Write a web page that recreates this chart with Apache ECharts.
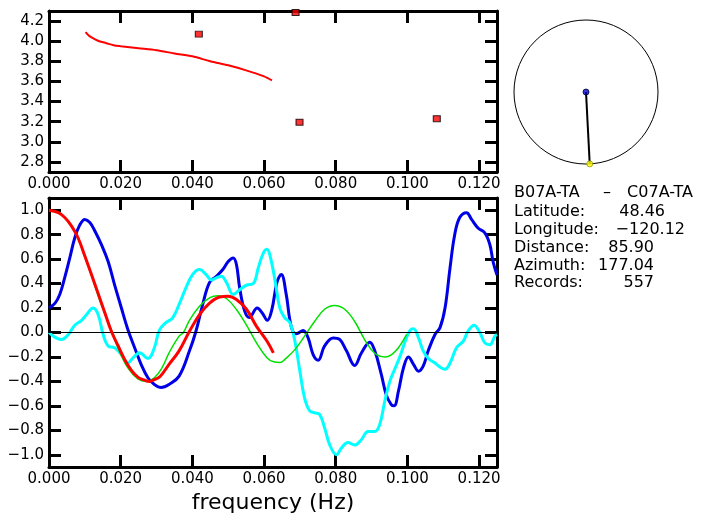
<!DOCTYPE html>
<html><head><meta charset="utf-8">
<script src="https://cdn.jsdelivr.net/npm/echarts@6/dist/echarts.min.js"></script>
<style>html,body{margin:0;padding:0;background:#fff}#c{width:703px;height:519px}</style>
</head><body><div id="c"></div>
<script>
// ---------- data ----------
const xLabelVals = [0, 0.02, 0.04, 0.06, 0.08, 0.10, 0.12];
const xTickVals = [0.02, 0.04, 0.06, 0.08, 0.10, 0.12];
const topYVals = [2.8, 3.0, 3.2, 3.4, 3.6, 3.8, 4.0, 4.2];
const botYVals = [-1.0, -0.8, -0.6, -0.4, -0.2, 0.0, 0.2, 0.4, 0.6, 0.8, 1.0];

const velocityCurve = [[0.0102,4.09],[0.011,4.06],[0.012,4.035],[0.013,4.015],[0.014,4.0],[0.016,3.98],[0.018,3.96],[0.020,3.95],[0.025,3.93],[0.030,3.91],[0.035,3.878],[0.040,3.85],[0.045,3.80],[0.050,3.76],[0.055,3.71],[0.060,3.65],[0.0622,3.61]];
const velocityPoints = [[0.0418,4.07],[0.0688,4.285],[0.0699,3.195],[0.1082,3.23]];

const redCoh = [[0,1.0],[0.0026,0.98],[0.0044,0.94],[0.0063,0.87],[0.0081,0.775],[0.010,0.625],[0.0119,0.47],[0.0137,0.32],[0.0156,0.16],[0.0174,0.01],[0.0193,-0.11],[0.0211,-0.22],[0.023,-0.31],[0.0248,-0.365],[0.0267,-0.39],[0.028,-0.40],[0.0294,-0.385],[0.031,-0.36],[0.0335,-0.26],[0.0363,-0.15],[0.0392,0.01],[0.042,0.147],[0.0448,0.24],[0.0476,0.29],[0.050,0.297],[0.0523,0.27],[0.0551,0.19],[0.0579,0.05],[0.0608,-0.07],[0.0626,-0.166]];
const greenCoh = [[0,1.0],[0.0026,0.98],[0.0044,0.94],[0.0063,0.87],[0.0081,0.77],[0.010,0.62],[0.0119,0.46],[0.0137,0.30],[0.0156,0.15],[0.0174,0.02],[0.0193,-0.13],[0.022,-0.29],[0.0248,-0.38],[0.0271,-0.40],[0.0294,-0.37],[0.0315,-0.29],[0.0335,-0.166],[0.0363,-0.03],[0.0375,0.0],[0.0392,0.10],[0.042,0.215],[0.0448,0.283],[0.0471,0.30],[0.0495,0.278],[0.0523,0.188],[0.0551,0.06],[0.0579,-0.085],[0.0608,-0.207],[0.0627,-0.24],[0.0645,-0.245],[0.0658,-0.22],[0.0686,-0.14],[0.0713,-0.03],[0.0741,0.09],[0.0769,0.19],[0.0797,0.22],[0.0825,0.19],[0.0853,0.09],[0.0881,-0.06],[0.0909,-0.17],[0.0937,-0.20],[0.0956,-0.18],[0.0975,-0.125],[0.0998,-0.016]];
const blueCoh = [[0,0.2],[0.0017,0.24],[0.003,0.31],[0.0044,0.45],[0.0058,0.61],[0.0072,0.775],[0.0086,0.88],[0.010,0.925],[0.0114,0.9],[0.0128,0.83],[0.0146,0.72],[0.0165,0.58],[0.0183,0.39],[0.0202,0.2],[0.022,0.025],[0.0239,-0.125],[0.0257,-0.26],[0.0276,-0.37],[0.0294,-0.425],[0.0313,-0.45],[0.0335,-0.425],[0.0363,-0.357],[0.0392,-0.15],[0.041,0.01],[0.0429,0.23],[0.0448,0.41],[0.0467,0.46],[0.0485,0.515],[0.050,0.58],[0.0514,0.61],[0.0523,0.556],[0.0532,0.365],[0.0546,0.175],[0.0559,0.122],[0.0581,0.2],[0.0595,0.16],[0.0609,0.10],[0.0622,0.19],[0.0636,0.41],[0.0648,0.475],[0.0662,0.31],[0.0671,0.12],[0.068,0.01],[0.069,-0.01],[0.0709,0.016],[0.0723,-0.044],[0.0737,-0.18],[0.0751,-0.226],[0.0769,-0.11],[0.0793,-0.044],[0.0811,-0.057],[0.083,-0.15],[0.0853,-0.27],[0.0872,-0.166],[0.0895,-0.08],[0.0909,-0.15],[0.0927,-0.34],[0.0941,-0.51],[0.0955,-0.59],[0.0963,-0.6],[0.0975,-0.48],[0.0989,-0.29],[0.1003,-0.2],[0.1017,-0.26],[0.1031,-0.316],[0.1044,-0.275],[0.1058,-0.15],[0.1077,-0.016],[0.1091,0.04],[0.1105,0.2],[0.1119,0.53],[0.1132,0.8],[0.1146,0.94],[0.1165,0.98],[0.1179,0.925],[0.1197,0.855],[0.1216,0.815],[0.123,0.72],[0.1239,0.58],[0.125,0.47]];
const cyanCoh = [[0,0],[0.0017,-0.04],[0.0035,-0.057],[0.0054,-0.016],[0.0072,0.06],[0.0091,0.1],[0.0105,0.147],[0.0123,0.2],[0.0137,0.147],[0.0151,-0.016],[0.0165,-0.11],[0.0183,-0.125],[0.0202,-0.18],[0.022,-0.25],[0.0234,-0.21],[0.0253,-0.166],[0.0276,-0.213],[0.0294,-0.125],[0.0308,0.02],[0.0326,0.08],[0.0345,0.12],[0.0363,0.23],[0.0382,0.365],[0.0401,0.475],[0.042,0.515],[0.0438,0.475],[0.0453,0.43],[0.0467,0.447],[0.0481,0.46],[0.0495,0.41],[0.0514,0.31],[0.0532,0.35],[0.0551,0.387],[0.057,0.4],[0.0584,0.53],[0.0598,0.65],[0.0608,0.68],[0.0617,0.625],[0.0631,0.42],[0.0644,0.2],[0.0658,0.12],[0.0672,0.08],[0.0686,-0.07],[0.07,-0.316],[0.0713,-0.535],[0.0727,-0.64],[0.0741,-0.657],[0.0755,-0.67],[0.0769,-0.78],[0.0783,-0.917],[0.0802,-1.0],[0.0816,-0.944],[0.0834,-0.9],[0.0853,-0.92],[0.0872,-0.875],[0.089,-0.81],[0.0909,-0.81],[0.0923,-0.75],[0.0937,-0.56],[0.0951,-0.4],[0.0966,-0.29],[0.098,-0.19],[0.0994,-0.07],[0.1007,0.016],[0.1017,0.03],[0.1031,-0.044],[0.1044,-0.15],[0.1058,-0.21],[0.1077,-0.25],[0.1095,-0.29],[0.1105,-0.3],[0.1119,-0.25],[0.1137,-0.125],[0.1156,-0.07],[0.1169,0.01],[0.1186,0.06],[0.1202,0],[0.1216,-0.085],[0.123,-0.1],[0.1244,-0.03],[0.125,-0.016]];

const stationPair = ['B07A-TA', '\u2013', 'C07A-TA'];
const infoLabels = ['Latitude:', 'Longitude:', 'Distance:', 'Azimuth:', 'Records:'];
const infoValues = ['48.46', '\u2212120.12', '85.90', '177.04', '557'];
const azimuth = 177.04;

// ---------- helpers ----------
const FONT = '"DejaVu Sans", sans-serif';
const minus = s => s.replace('-', '\u2212');
function xAxes(grid) {
  const common = {
    gridIndex: grid, type: 'value', min: 0, max: 0.125,
    axisLine: { show: true, onZero: false, lineStyle: { color: '#000', width: 3 } },
    axisTick: { show: true, inside: true, length: 12, customValues: xTickVals, lineStyle: { color: '#000', width: 3 } },
    splitLine: { show: false }
  };
  return [
    Object.assign({}, common, { position: 'bottom',
      axisLabel: { show: true, customValues: xLabelVals, formatter: v => v.toFixed(3), color: '#000', fontSize: 15, fontFamily: FONT, margin: 5 } }),
    Object.assign({}, common, { position: 'top', axisLabel: { show: false } })
  ];
}
function yAxes(grid, min, max, vals) {
  const common = {
    gridIndex: grid, type: 'value', min: min, max: max,
    axisLine: { show: true, onZero: false, lineStyle: { color: '#000', width: 3 } },
    axisTick: { show: true, inside: true, length: 12, customValues: vals, lineStyle: { color: '#000', width: 3 } },
    splitLine: { show: false }
  };
  return [
    Object.assign({}, common, { position: 'left',
      axisLabel: { show: true, customValues: vals, formatter: v => minus(v.toFixed(1)), color: '#000', fontSize: 15, fontFamily: FONT, margin: 5 } }),
    Object.assign({}, common, { position: 'right', axisLabel: { show: false } })
  ];
}

const xa = xAxes(0).concat(xAxes(1));
xa[2].name = 'frequency (Hz)';
xa[2].nameLocation = 'middle';
xa[2].nameGap = 15;
xa[2].nameTextStyle = { color: '#000', fontSize: 22, fontFamily: FONT };
const ya = yAxes(0, 2.7, 4.3, topYVals).concat(yAxes(1, -1.1, 1.1, botYVals));

const graphics = [];
const textStyle = (t, x, y, align) => ({ type: 'text', style: { text: t, x: x, y: y, fill: '#000', font: '16px ' + FONT, textAlign: align, textVerticalAlign: 'middle' } });
graphics.push(textStyle(stationPair[0], 514, 193, 'left'));
graphics.push(textStyle(stationPair[1], 607, 193, 'center'));
graphics.push(textStyle(stationPair[2], 693, 193, 'right'));
const valueRight = [665, 685, 654, 654, 654];
const rowY = [212, 230, 248, 266, 283];
infoLabels.forEach((l, i) => {
  graphics.push(textStyle(l, 514, rowY[i], 'left'));
  graphics.push(textStyle(infoValues[i], valueRight[i], rowY[i], 'right'));
});

const lineSeries = (data, color, width, z) => ({
  type: 'line', xAxisIndex: 2, yAxisIndex: 2, data: data, showSymbol: false, symbol: 'none',
  smooth: 0.4, lineStyle: { color: color, width: width }, z: z, silent: true
});

const option = {
  animation: false,
  backgroundColor: '#fff',
  grid: [
    { left: 49, top: 11, width: 448, height: 161, outerBoundsMode: 'none' },
    { left: 49, top: 198, width: 448, height: 269, outerBoundsMode: 'none' }
  ],
  xAxis: xa,
  yAxis: ya,
  polar: { center: [586, 92], radius: 72 },
  angleAxis: { type: 'value', min: 0, max: 360, startAngle: 90, clockwise: true,
    axisLine: { show: true, lineStyle: { color: '#000', width: 1 } },
    axisTick: { show: false }, axisLabel: { show: false }, splitLine: { show: false } },
  radiusAxis: { type: 'value', min: 0, max: 1, axisLine: { show: false }, axisTick: { show: false }, axisLabel: { show: false }, splitLine: { show: false } },
  graphic: graphics,
  series: [
    { type: 'line', xAxisIndex: 0, yAxisIndex: 0, data: velocityCurve, symbol: 'none', smooth: 0.3,
      lineStyle: { color: '#ff0000', width: 2 }, silent: true },
    { type: 'scatter', xAxisIndex: 0, yAxisIndex: 0, data: velocityPoints, symbol: 'rect', symbolSize: [7, 6],
      itemStyle: { color: '#ff0000', borderColor: '#000', borderWidth: 1 }, silent: true },
    { type: 'line', xAxisIndex: 2, yAxisIndex: 2, data: [], symbol: 'none', silent: true, z: 1,
      markLine: { silent: true, symbol: ['none', 'none'], label: { show: false },
        lineStyle: { color: '#000', width: 1, type: 'solid' }, data: [{ yAxis: 0 }] } },
    lineSeries(blueCoh, '#0000e6', 3, 2),
    lineSeries(cyanCoh, '#00ffff', 3, 3),
    lineSeries(greenCoh, '#00e000', 1.5, 4),
    lineSeries(redCoh, '#ff0000', 3, 5),
    { type: 'line', coordinateSystem: 'polar', data: [[0, azimuth], [1, azimuth]], symbol: 'none',
      lineStyle: { color: '#000', width: 2 }, silent: true },
    { type: 'scatter', coordinateSystem: 'polar', data: [[0, 0]], symbolSize: 6,
      itemStyle: { color: '#0000cc', borderColor: '#000033', borderWidth: 1 }, silent: true, z: 5 },
    { type: 'scatter', coordinateSystem: 'polar', data: [[1, azimuth]], symbolSize: 6,
      itemStyle: { color: '#ffff00', borderColor: '#999900', borderWidth: 1 }, silent: true, z: 5 }
  ]
};
const chart = echarts.init(document.getElementById('c'), null, { renderer: 'canvas' });
chart.setOption(option);
</script></body></html>
